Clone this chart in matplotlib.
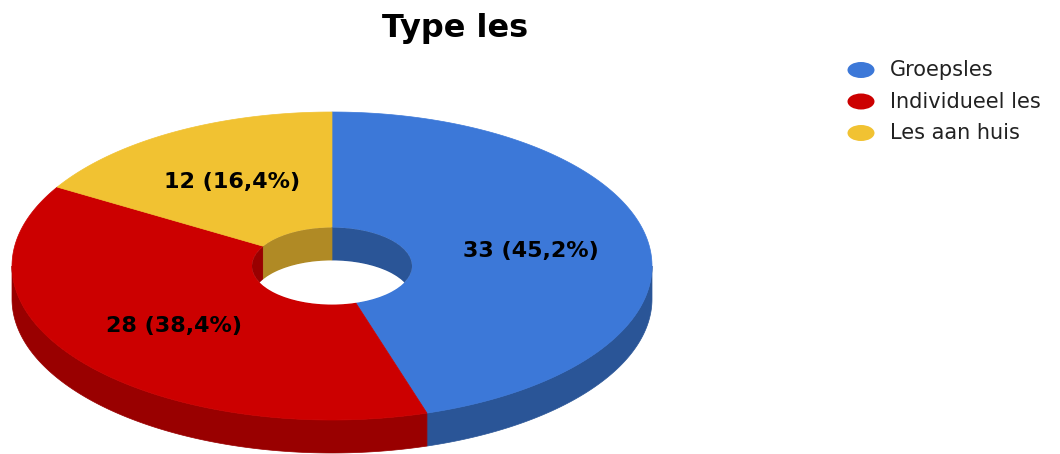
import numpy as np
import matplotlib
matplotlib.use('Agg')
from matplotlib import pyplot as plt
from matplotlib.patches import Polygon, Ellipse

# Data
labels = ['Groepsles', 'Individueel les', 'Les aan huis']
values = [33, 28, 12]
top_colors = ['#3c78d8', '#cc0000', '#f1c232']
side_colors = ['#2a5597', '#990000', '#b08a25']
title = 'Type les'

# Geometry of the 3D donut (pixel units, y pointing down)
cx, cy = 332, 266
rx, ry = 320, 154
hole = 0.25
depth = 33


def arc(t0, t1, sx, sy, dy=0, n=200):
    t = np.radians(np.linspace(t0, t1, n))
    return np.column_stack([cx + sx * np.sin(t), cy - sy * np.cos(t) + dy])


def clip(a, b, lo, hi):
    # intersect [a, b] with [lo, hi] allowing a 360 deg wrap
    out = []
    for s in (-360, 0, 360):
        x0, x1 = max(a, lo + s), min(b, hi + s)
        if x1 > x0:
            out.append((x0, x1))
    return out


fig = plt.figure(figsize=(10.6, 4.54), dpi=100)
ax = fig.add_axes([0, 0, 1, 1])
ax.set_xlim(0, 1060)
ax.set_ylim(454, 0)
ax.axis('off')

total = sum(values)
fracs = [v / total for v in values]
bounds = np.concatenate([[0], np.cumsum(fracs) * 360])

# Outer side walls (front half only)
for i in range(len(values)):
    for a, b in clip(bounds[i], bounds[i + 1], 90, 270):
        top = arc(a, b, rx, ry)
        bot = arc(b, a, rx, ry, dy=depth)
        ax.add_patch(Polygon(np.vstack([top, bot]), closed=True,
                             facecolor=side_colors[i], edgecolor=side_colors[i],
                             lw=0.5, zorder=1))

# Top faces
for i in range(len(values)):
    outer = arc(bounds[i], bounds[i + 1], rx, ry)
    inner = arc(bounds[i + 1], bounds[i], rx * hole, ry * hole)
    ax.add_patch(Polygon(np.vstack([outer, inner]), closed=True,
                         facecolor=top_colors[i], edgecolor=top_colors[i],
                         lw=0.5, zorder=2))

# Inner wall of the hole (back half only)
hole_clip = Ellipse((cx, cy), 2 * rx * hole, 2 * ry * hole, transform=ax.transData)
for i in range(len(values)):
    for a, b in clip(bounds[i], bounds[i + 1], -90, 90):
        top = arc(a, b, rx * hole, ry * hole)
        bot = arc(b, a, rx * hole, ry * hole, dy=depth)
        p = Polygon(np.vstack([top, bot]), closed=True,
                    facecolor=side_colors[i], edgecolor=side_colors[i],
                    lw=0.5, zorder=3)
        ax.add_patch(p)
        p.set_clip_path(hole_clip)

# Background seen through the hole
floor = Ellipse((cx, cy + depth), 2 * rx * hole, 2 * ry * hole,
                facecolor='white', edgecolor='none', zorder=4)
ax.add_patch(floor)
floor.set_clip_path(hole_clip)

# Slice labels
for i, v in enumerate(values):
    mid = np.radians((bounds[i] + bounds[i + 1]) / 2)
    lx = cx + 0.63 * rx * np.sin(mid)
    ly = cy - 0.63 * ry * np.cos(mid)
    txt = f'{v} ({fracs[i] * 100:.1f}%)'.replace('.', ',')
    ax.text(lx, ly, txt, ha='center', va='center', fontsize=16,
            fontweight='bold', color='#000000', zorder=5)

# Title
ax.text(455, 28, title, ha='center', va='center', fontsize=23,
        fontweight='bold', color='#000000')

# Legend
for i, lab in enumerate(labels):
    y = 70 + i * 31.5
    ax.add_patch(Ellipse((861, y), 27, 16, facecolor=top_colors[i],
                         edgecolor='none'))
    ax.text(890, y, lab, ha='left', va='center', fontsize=15, color='#222222')

fig.savefig('out.png', dpi=100)
